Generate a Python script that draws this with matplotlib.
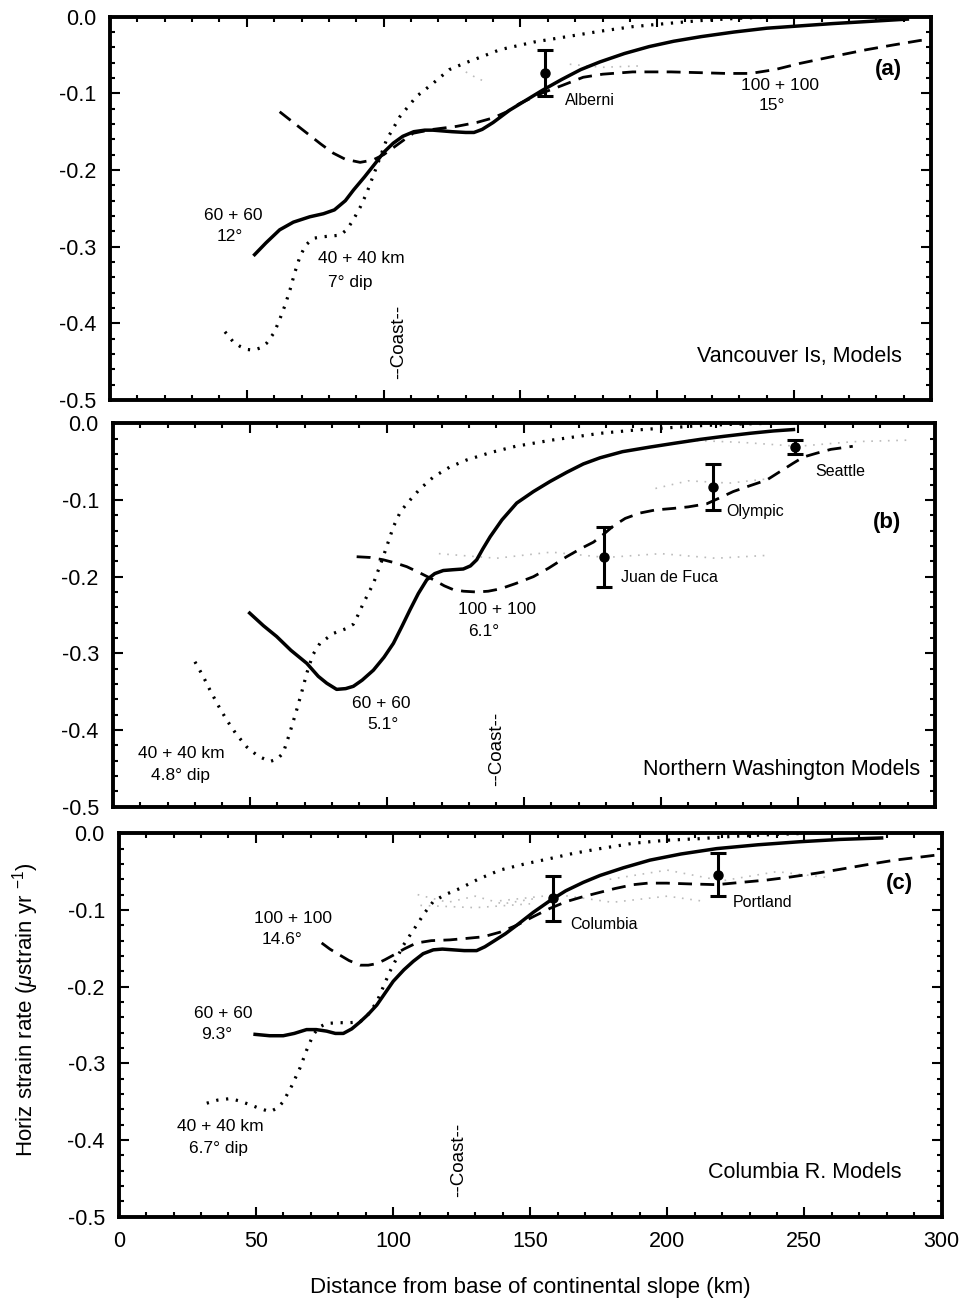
#import
import matplotlib
matplotlib.use("Agg")
import matplotlib.pyplot as plt

plt.rcParams['font.family'] = ['Liberation Sans', 'DejaVu Sans']
plt.rcParams['mathtext.fontset'] = 'custom'
plt.rcParams['mathtext.rm'] = 'Liberation Sans'
plt.rcParams['mathtext.it'] = 'Liberation Sans:italic'

#data - panel (a) Vancouver Is
a_solid_x = [52.4, 57, 62, 67, 73, 78, 82, 86, 89, 93, 97, 100, 103.5, 107, 111, 115, 118, 125, 130, 133, 136, 140, 146, 152, 158, 165, 172, 179, 188, 197, 206, 216, 228, 240, 252, 264, 278, 292]
a_solid_y = [-0.312, -0.295, -0.278, -0.268, -0.261, -0.257, -0.252, -0.240, -0.226, -0.209, -0.191, -0.177, -0.165, -0.156, -0.150, -0.148, -0.148, -0.150, -0.151, -0.151, -0.147, -0.138, -0.122, -0.109, -0.096, -0.082, -0.069, -0.059, -0.048, -0.039, -0.032, -0.026, -0.020, -0.015, -0.012, -0.009, -0.006, -0.003]
a_dot_x = [42, 45, 47.5, 50, 52.4, 55, 57.2, 60, 62, 64, 65.8, 67.5, 69.4, 71.5, 74.3, 78, 84, 86.5, 88.9, 91.5, 93.8, 97.4, 101, 106, 112, 118, 124, 130, 136, 142.5, 155, 167, 179, 191, 203, 216, 230, 245, 258]
a_dot_y = [-0.411, -0.424, -0.430, -0.434, -0.435, -0.432, -0.426, -0.412, -0.395, -0.376, -0.356, -0.334, -0.313, -0.298, -0.289, -0.287, -0.285, -0.278, -0.265, -0.248, -0.230, -0.196, -0.161, -0.130, -0.104, -0.087, -0.069, -0.060, -0.052, -0.043, -0.033, -0.026, -0.019, -0.013, -0.009, -0.005, -0.002, 0.0, 0.0]
a_dash_x = [62, 67, 72, 77, 81.6, 86, 91.4, 96, 100, 105, 110.8, 118, 126.7, 134, 140, 145, 149.8, 154, 158.3, 165, 172.9, 180, 191, 205, 215.6, 225, 234, 243, 252, 264, 276.5, 286, 296, 299]
a_dash_y = [-0.124, -0.138, -0.152, -0.166, -0.178, -0.186, -0.190, -0.187, -0.180, -0.167, -0.152, -0.147, -0.143, -0.138, -0.132, -0.124, -0.113, -0.106, -0.099, -0.090, -0.079, -0.075, -0.072, -0.072, -0.073, -0.074, -0.074, -0.069, -0.061, -0.052, -0.043, -0.037, -0.031, -0.030]
a_sites = ["Alberni"]
a_site_x = [159]
a_site_y = [-0.074]
a_site_err = [0.030]
a_stip_x = [[130, 134, 138], [168, 180, 195]]
a_stip_y = [[-0.072, -0.080, -0.086], [-0.062, -0.066, -0.064]]

#data - panel (b) Northern Washington
b_solid_x = [49.5, 55, 59.8, 65, 70.8, 75, 78.1, 81.7, 85, 87.8, 91, 95.1, 99, 102.4, 105.5, 108.5, 111.5, 114.6, 117.5, 120.6, 124, 127.9, 130.5, 132.8, 135, 137.7, 142, 147.4, 153.5, 159.5, 165.6, 171.7, 177.8, 186, 196, 205, 214.3, 223, 232.6, 241, 249]
b_solid_y = [-0.246, -0.264, -0.278, -0.296, -0.313, -0.330, -0.339, -0.347, -0.346, -0.343, -0.335, -0.322, -0.305, -0.287, -0.265, -0.243, -0.222, -0.204, -0.196, -0.192, -0.191, -0.190, -0.186, -0.178, -0.164, -0.148, -0.126, -0.104, -0.089, -0.076, -0.064, -0.053, -0.045, -0.037, -0.031, -0.026, -0.021, -0.017, -0.013, -0.010, -0.008]
b_dot_x = [30, 33, 35.5, 38.5, 41.6, 45, 48.9, 53, 57.4, 60, 62.2, 64.5, 67.1, 69, 70.8, 73, 75.6, 80.5, 85, 87.8, 89.5, 91.4, 95.1, 98.7, 102.4, 105, 108.5, 112, 117, 123, 129, 138, 147, 160, 170, 178, 190, 202, 215, 228, 240]
b_dot_y = [-0.311, -0.330, -0.348, -0.368, -0.387, -0.405, -0.422, -0.434, -0.441, -0.438, -0.430, -0.405, -0.374, -0.350, -0.326, -0.302, -0.287, -0.274, -0.268, -0.262, -0.250, -0.235, -0.209, -0.174, -0.135, -0.115, -0.100, -0.086, -0.070, -0.057, -0.048, -0.038, -0.030, -0.022, -0.017, -0.013, -0.009, -0.006, -0.003, -0.001, 0.0]
b_dash_x = [89, 94, 98.7, 103, 107.3, 112, 117, 121, 124.3, 128, 132.8, 137, 141.3, 147, 153.5, 159, 165.6, 171, 175.4, 179, 182.6, 187, 192.4, 198, 204.5, 210, 216.7, 221, 226.4, 232, 238.6, 243, 248.3, 252, 256.8, 262, 270]
b_dash_y = [-0.174, -0.175, -0.178, -0.182, -0.187, -0.195, -0.204, -0.212, -0.217, -0.219, -0.220, -0.219, -0.216, -0.209, -0.200, -0.189, -0.174, -0.163, -0.155, -0.145, -0.134, -0.124, -0.117, -0.113, -0.111, -0.109, -0.105, -0.098, -0.089, -0.082, -0.074, -0.064, -0.052, -0.044, -0.039, -0.034, -0.030]
b_sites = ["Juan de Fuca", "Olympic", "Seattle"]
b_site_x = [179.2, 219.1, 249]
b_site_y = [-0.174, -0.083, -0.031]
b_site_err = [0.039, 0.030, 0.009]
b_stip_x = [[119, 140, 160, 180, 200, 220, 240], [198, 210, 225, 240], [210, 230, 250, 270, 290]]
b_stip_y = [[-0.170, -0.176, -0.168, -0.175, -0.170, -0.176, -0.172], [-0.085, -0.075, -0.078, -0.072], [-0.022, -0.025, -0.030, -0.024, -0.022]]

#data - panel (c) Columbia R.
c_solid_x = [49.1, 55, 60, 64, 68.5, 72, 75.8, 79, 81.9, 85, 88, 91, 94.1, 97, 100.1, 104, 107.4, 111, 114.7, 118, 122, 126, 130.5, 133.5, 136.6, 141, 145.1, 151.2, 157.2, 163, 169.4, 175.5, 184, 193.7, 205, 218, 233, 248.4, 263, 278.8]
c_solid_y = [-0.262, -0.264, -0.264, -0.261, -0.256, -0.256, -0.258, -0.261, -0.261, -0.255, -0.246, -0.236, -0.224, -0.209, -0.193, -0.178, -0.167, -0.157, -0.152, -0.151, -0.152, -0.153, -0.153, -0.148, -0.141, -0.131, -0.120, -0.103, -0.088, -0.075, -0.064, -0.055, -0.045, -0.035, -0.027, -0.020, -0.015, -0.011, -0.008, -0.006]
c_dot_x = [32.1, 36, 40.6, 44, 47.9, 51.5, 55.2, 58, 60, 63, 66.1, 68.5, 70.9, 73, 75.8, 80, 84, 88, 91, 94.1, 96.5, 98.9, 101.5, 103.8, 106, 108.6, 111.5, 114.7, 119, 124.4, 131, 139, 148, 157.2, 166, 175.5, 187.6, 200, 211.9, 224, 236.2, 250.8]
c_dot_y = [-0.352, -0.348, -0.346, -0.349, -0.354, -0.359, -0.363, -0.358, -0.350, -0.330, -0.306, -0.283, -0.263, -0.253, -0.248, -0.247, -0.247, -0.246, -0.236, -0.220, -0.200, -0.180, -0.162, -0.146, -0.134, -0.120, -0.104, -0.089, -0.080, -0.072, -0.060, -0.048, -0.040, -0.033, -0.026, -0.020, -0.013, -0.009, -0.007, -0.004, -0.002, 0.0]
c_dash_x = [74, 77, 80.7, 84, 88, 91, 94.1, 97, 100.1, 104, 108.6, 114, 120.8, 127, 132.9, 139, 145.1, 151, 157.2, 163.3, 169, 175.5, 181, 187.6, 193, 199.8, 208, 218, 227, 236.2, 245, 254.5, 263, 272.7, 283, 294.6, 299]
c_dash_y = [-0.143, -0.151, -0.159, -0.166, -0.172, -0.172, -0.170, -0.165, -0.159, -0.151, -0.143, -0.140, -0.139, -0.137, -0.135, -0.129, -0.120, -0.109, -0.098, -0.089, -0.083, -0.077, -0.072, -0.067, -0.065, -0.065, -0.066, -0.067, -0.064, -0.061, -0.057, -0.052, -0.047, -0.041, -0.035, -0.030, -0.028]
c_sites = ["Columbia", "Portland"]
c_site_x = [158.4, 218.6]
c_site_y = [-0.085, -0.054]
c_site_err = [0.029, 0.028]
c_stip_x = [[109, 120, 130, 140, 152], [139, 160, 180, 200, 212], [179, 200, 220, 240, 259], [110, 130, 150]]
c_stip_y = [[-0.080, -0.090, -0.082, -0.092, -0.085], [-0.088, -0.080, -0.090, -0.082, -0.088], [-0.060, -0.048, -0.062, -0.050, -0.058], [-0.094, -0.097, -0.092]]

xticks = [0, 50, 100, 150, 200, 250, 300]
yticks = [0.0, -0.1, -0.2, -0.3, -0.4, -0.5]
ytick_labels = ["0.0", "-0.1", "-0.2", "-0.3", "-0.4", "-0.5"]

#figure
fig = plt.figure(figsize=(9.67, 13.01), dpi=100)
ax_a = fig.add_axes([0.11375, 0.69254, 0.84902, 0.29462])
ax_b = fig.add_axes([0.11655, 0.37994, 0.85036, 0.29470])
ax_c = fig.add_axes([0.12275, 0.06480, 0.85088, 0.29470])

panels = [
    (ax_a, a_solid_x, a_solid_y, a_dot_x, a_dot_y, a_dash_x, a_dash_y, a_sites, a_site_x, a_site_y, a_site_err, a_stip_x, a_stip_y),
    (ax_b, b_solid_x, b_solid_y, b_dot_x, b_dot_y, b_dash_x, b_dash_y, b_sites, b_site_x, b_site_y, b_site_err, b_stip_x, b_stip_y),
    (ax_c, c_solid_x, c_solid_y, c_dot_x, c_dot_y, c_dash_x, c_dash_y, c_sites, c_site_x, c_site_y, c_site_err, c_stip_x, c_stip_y),
]

for ax, sx, sy, dx, dy, hx, hy, sites, ex, ey, ee, stx, sty in panels:
    #stipple of data scatter
    for px, py in zip(stx, sty):
        ax.plot(px, py, color='#bbbbbb', lw=1.2, ls=(0, (1, 4)))
    ax.plot(sx, sy, color='black', lw=2.5, solid_capstyle='butt')
    ax.plot(dx, dy, color='black', lw=2.3, ls=(0, (0.7, 2.4)))
    ax.plot(hx, hy, color='black', lw=2.0, ls=(0, (5, 3)))
    ax.errorbar(ex, ey, yerr=ee, fmt='o', color='black', ms=6.5, lw=2.2, capsize=6, capthick=2.2)

    ax.set_xlim(0, 300)
    ax.set_ylim(-0.5, 0.0)
    ax.set_xticks(xticks)
    ax.set_xticks(range(0, 301, 10), minor=True)
    ax.set_yticks(yticks)
    ax.set_yticklabels(ytick_labels)
    ax.set_yticks([-0.02 * i for i in range(26)], minor=True)
    ax.tick_params(which='both', direction='in', top=True, right=True, width=1.5, labelsize=15.5)
    ax.tick_params(which='major', length=7)
    ax.tick_params(which='minor', length=3.5)
    ax.tick_params(axis='y', pad=10)
    ax.tick_params(axis='x', pad=10)
    for s in ax.spines.values():
        s.set_linewidth(2.8)

ax_a.tick_params(axis='x', labelbottom=False)
ax_b.tick_params(axis='x', labelbottom=False)

#site labels
sk = dict(fontsize=11.5, ha='left', va='center')
ax_a.text(166.2, -0.109, "Alberni", **sk)
ax_b.text(185.3, -0.201, "Juan de Fuca", **sk)
ax_b.text(223.8, -0.115, "Olympic", **sk)
ax_b.text(256.3, -0.063, "Seattle", **sk)
ax_c.text(164.5, -0.119, "Columbia", **sk)
ax_c.text(224, -0.090, "Portland", **sk)

#model labels
tk = dict(fontsize=12.5, ha='center', va='center')
ax_a.text(45.1, -0.259, "60 + 60", **tk)
ax_a.text(43.8, -0.287, "12°", **tk)
ax_a.text(92, -0.315, "40 + 40 km", **tk)
ax_a.text(87.7, -0.347, "7° dip", **tk)
ax_a.text(244.8, -0.090, "100 + 100", **tk)
ax_a.text(241.7, -0.116, "15°", **tk)

ax_b.text(140.1, -0.243, "100 + 100", **tk)
ax_b.text(135.2, -0.272, "6.1°", **tk)
ax_b.text(98.1, -0.365, "60 + 60", **tk)
ax_b.text(98.7, -0.393, "5.1°", **tk)
ax_b.text(25.2, -0.430, "40 + 40 km", **tk)
ax_b.text(24.6, -0.459, "4.8° dip", **tk)

ax_c.text(63.7, -0.111, "100 + 100", **tk)
ax_c.text(59.4, -0.139, "14.6°", **tk)
ax_c.text(38.1, -0.235, "60 + 60", **tk)
ax_c.text(35.7, -0.263, "9.3°", **tk)
ax_c.text(36.9, -0.383, "40 + 40 km", **tk)
ax_c.text(36.3, -0.411, "6.7° dip", **tk)

#coast markers
ck = dict(fontsize=13.5, rotation=90, ha='center', va='center')
ax_a.text(105.3, -0.424, "--Coast--", **ck)
ax_b.text(140.1, -0.425, "--Coast--", **ck)
ax_c.text(123.8, -0.426, "--Coast--", **ck)

#panel tags and titles
ax_a.text(284.3, -0.069, "(a)", fontsize=16, fontweight='bold', ha='center', va='center')
ax_b.text(282.4, -0.130, "(b)", fontsize=16, fontweight='bold', ha='center', va='center')
ax_c.text(284.8, -0.065, "(c)", fontsize=16, fontweight='bold', ha='center', va='center')
ax_a.text(289.2, -0.443, "Vancouver Is, Models", fontsize=15.5, ha='right', va='center')
ax_b.text(294.7, -0.451, "Northern Washington Models", fontsize=15.5, ha='right', va='center')
ax_c.text(285.4, -0.443, "Columbia R. Models", fontsize=15.5, ha='right', va='center')

#Adding Labels
fig.text(0.026, 0.2237, r"Horiz strain rate ($\mu$strain yr $^{-1}$)", fontsize=16, rotation=90, ha='center', va='center')
fig.text(0.548, 0.0100, "Distance from base of continental slope (km)", fontsize=16, ha='center', va='center')

fig.savefig("out.png", dpi=100)
